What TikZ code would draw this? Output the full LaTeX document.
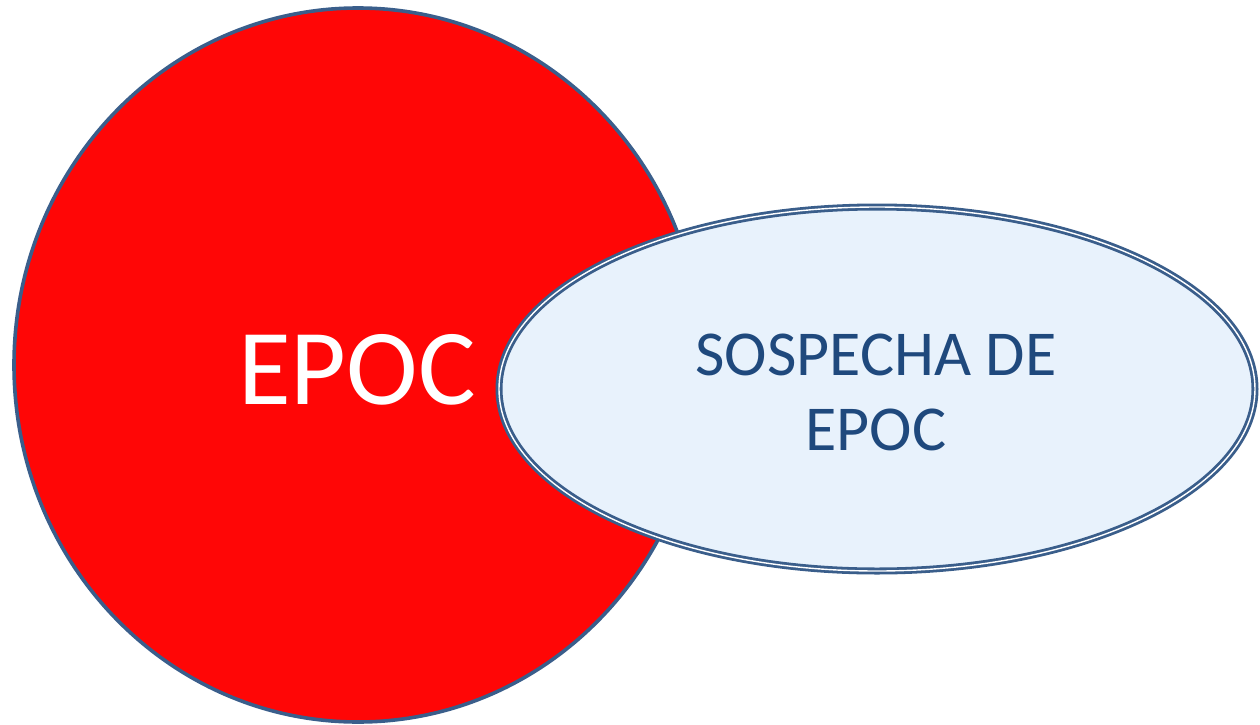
\documentclass[tikz,border=0pt]{standalone}
\usepackage{fontspec}
\setmainfont{Carlito}
\usetikzlibrary{shapes.geometric}
\definecolor{epocred}{HTML}{FF0606}
\definecolor{rimblue}{HTML}{3A5E8B}
\definecolor{paleblue}{HTML}{E8F2FC}
\definecolor{textblue}{HTML}{1F497D}
\tikzset{
  bubble/.style={ellipse,inner sep=0pt,outer sep=0pt},
  redbubble/.style={bubble,fill=epocred,draw=rimblue,line width=1.8pt},
  bluebubble/.style={bubble,fill=paleblue,draw=rimblue,line width=1.4pt,
    double=white,double distance=0.7pt},
  bigtxt/.style={anchor=base,text=white,font=\fontsize{54}{60}\selectfont},
  smalltxt/.style={anchor=base,text=textblue,font=\fontsize{32}{38}\selectfont}
}
\begin{document}
\begin{tikzpicture}[x=0.5pt,y=-0.5pt,line join=round,line cap=round]
	\useasboundingbox (0,0) rectangle (1260,724);
	% big red circle
	\node[redbubble,minimum width=344pt,minimum height=357pt] (epoc) at (358,365) {};
	\node[bigtxt] (epoctxt) at (357,404) {EPOC};
	% light blue ellipse
	\node[bluebubble,minimum width=378pt,minimum height=182pt] (sospecha) at (877,389) {};
	\node[smalltxt] (linea1) at (876,375) {SOSPECHA DE};
	\node[smalltxt] (linea2) at (876,450) {EPOC};
\end{tikzpicture}
\end{document}
